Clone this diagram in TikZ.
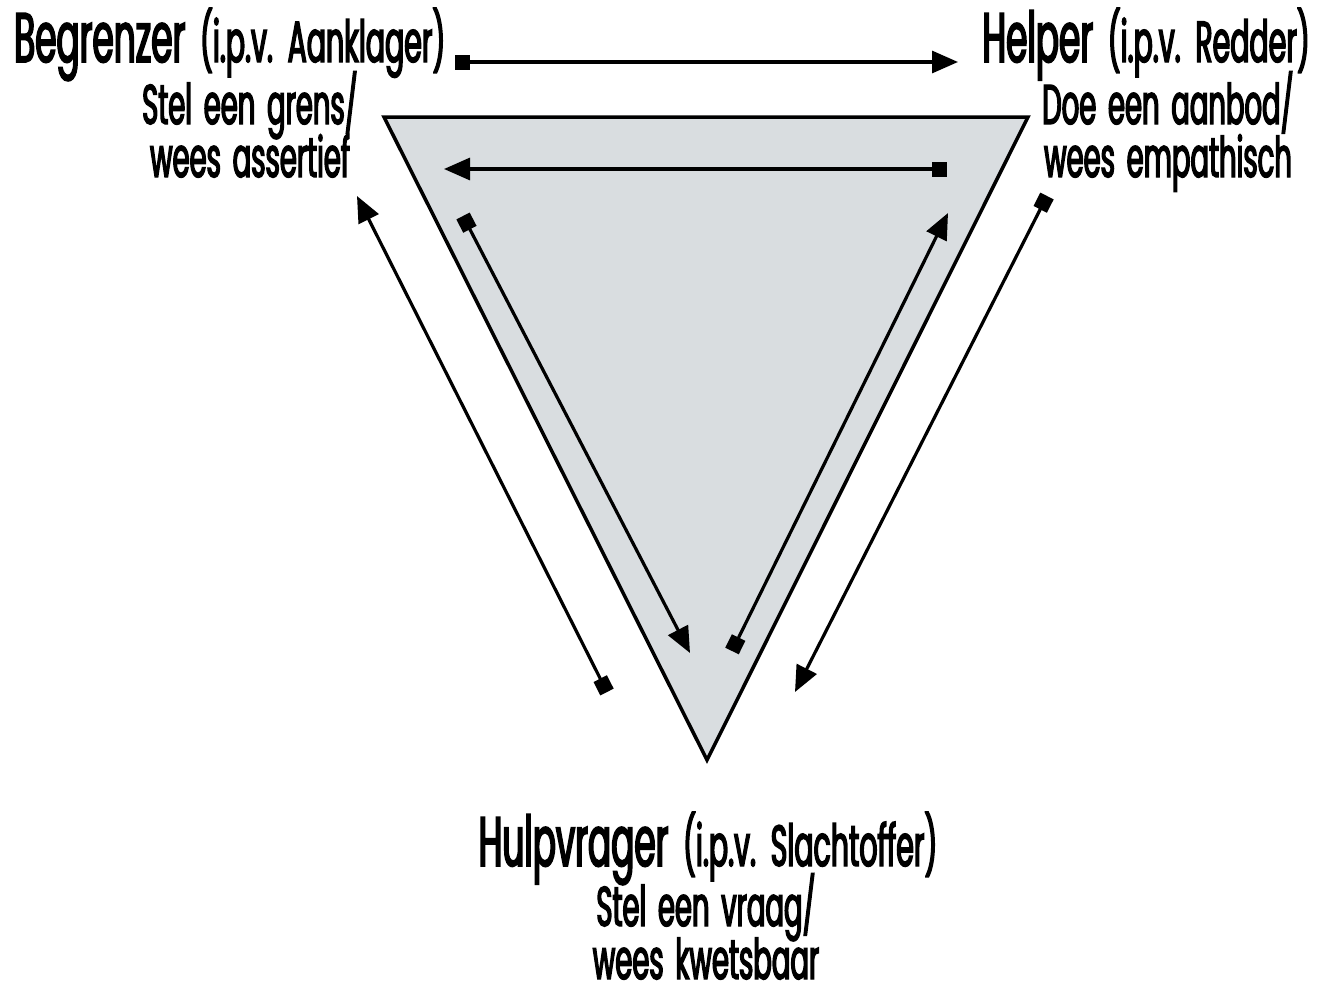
\documentclass[tikz,border=0pt]{standalone}
\usepackage{fontspec}
\setmainfont{Poppins}[FakeStretch=0.49,FakeBold=2.5,WordSpace=1.6]
\usetikzlibrary{arrows.meta}
\definecolor{trifill}{HTML}{D9DDE0}
\newcommand\parsz{\fontsize{58}{58}\selectfont}
\tikzset{
  role/.style={inner sep=0pt,font=\fontsize{70}{70}\selectfont},
  advice/.style={inner sep=0pt,align=center,font=\fontsize{56}{53}\selectfont},
  link/.style={line width=3.2pt,{Square[length=15pt,width=15pt]}-{Triangle[length=26pt,width=22pt]}},
}
\begin{document}
\begin{tikzpicture}[x=1pt,y=-1pt]
\useasboundingbox (0,0) rectangle (1320,993);
% triangle
\draw[line width=3.5pt,fill=trifill,line join=miter] (384,117) -- (1028,117) -- (707,760) -- cycle;
% texts
\node[role,anchor=base west] (beg) at (14,62) {Begrenzer {\parsz (i.p.v. Aanklager)}};
\node[role,anchor=base east] (hel) at (1310,62) {Helper {\parsz (i.p.v. Redder)}};
\node[role,anchor=base] (hul) at (708,866) {Hulpvrager {\parsz (i.p.v. Slachtoffer)}};
\node[advice,anchor=base] (begA) at (250,177) {\smash{Stel een grens/}\\wees assertief};
\node[advice,anchor=base] (helA) at (1168,177) {\smash{Doe een aanbod/}\\wees empathisch};
\node[advice,anchor=base] (hulA) at (706,979) {\smash{Stel een vraag/}\\wees kwetsbaar};
% arrow end points
\coordinate (a1s) at (455,62);   \coordinate (a1e) at (958,62);
\coordinate (a2s) at (947,169);  \coordinate (a2e) at (444,169);
\coordinate (a3s) at (463,216);  \coordinate (a3e) at (690,653);
\coordinate (a4s) at (732,651);  \coordinate (a4e) at (948,213);
\coordinate (a5s) at (607,692);  \coordinate (a5e) at (357,196);
\coordinate (a6s) at (1047,196); \coordinate (a6e) at (795,692);
\draw[link] (a1s) -- (a1e);
\draw[link] (a2s) -- (a2e);
\draw[link] (a3s) -- (a3e);
\draw[link] (a4s) -- (a4e);
\draw[link] (a5s) -- (a5e);
\draw[link] (a6s) -- (a6e);
\end{tikzpicture}
\end{document}
